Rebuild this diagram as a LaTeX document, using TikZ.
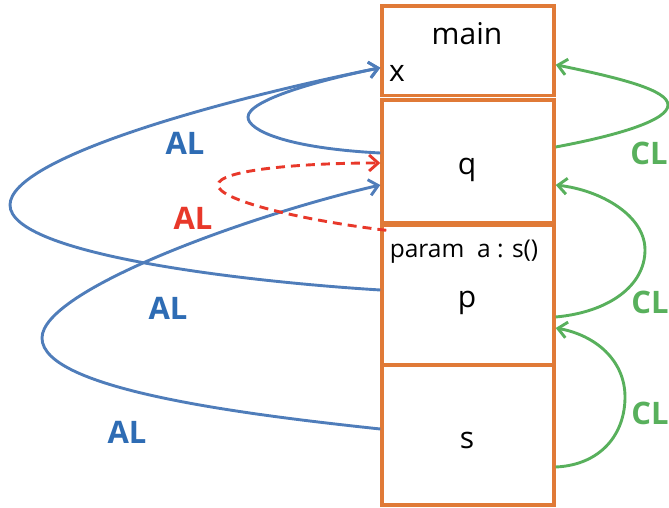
\documentclass[tikz,border=0pt]{standalone}
\usepackage{fontspec}
\setmainfont{Open Sans}
\usetikzlibrary{arrows.meta}
\definecolor{frameorange}{RGB}{224,122,55}
\definecolor{linkblue}{RGB}{79,125,186}
\definecolor{textblue}{RGB}{46,108,180}
\definecolor{linkred}{RGB}{232,56,42}
\definecolor{linkgreen}{RGB}{88,176,92}
\begin{document}
\begin{tikzpicture}[x=1pt,y=-1pt,
  frame/.style={draw=frameorange, line width=3.4pt, minimum width=172pt, inner sep=0pt},
  recname/.style={anchor=base, inner sep=0pt, font=\fontsize{30}{32}\selectfont},
  tip/.style={-{Straight Barb[length=9pt,width=16pt]}},
  al/.style={tip, draw=linkblue, line width=2.9pt},
  alred/.style={tip, draw=linkred, line width=2.9pt, dash pattern=on 9pt off 6pt},
  cl/.style={tip, draw=linkgreen, line width=2.9pt},
  lab/.style={inner sep=0pt, font=\fontsize{31}{33}\selectfont\bfseries}]
\useasboundingbox (0,0) rectangle (669,508);

% activation records
\node[frame, minimum height=89.5pt] (main) at (468,50.75) {};
\node[frame, minimum height=123pt] (q) at (468,161.5) {};
\node[frame, minimum height=140pt] (p) at (468,295) {};
\node[frame, minimum height=140pt] (s) at (468,435) {};

\node[recname] (tmain) at (467,45) {main};
\node[recname] (tx) at (397,82) {x};
\node[recname] (tq) at (467,175) {q};
\node[recname, font=\fontsize{24.5}{26}\selectfont] (tparam) at (464,257) {param\ \ a : s()};
\node[recname] (tp) at (467,307) {p};
\node[recname] (ts) at (467,448) {s};

% access links
\draw[al] ([yshift=5pt]p.west) .. controls (250,282) and (10,255) .. (10,205)
  .. controls (10,158) and (220,100) .. ([yshift=-17pt]main.west);
\draw[al] ([yshift=8.5pt]q.west) .. controls (285,148) and (248,130) .. (248,117)
  .. controls (248,100) and (320,80) .. ([yshift=-17pt]main.west);
\draw[al] ([yshift=6pt]s.west) .. controls (250,415) and (42,390) .. (42,338)
  .. controls (42,290) and (250,215) .. ([yshift=-23.5pt]q.west);
\draw[alred] ([xshift=6pt,yshift=-7pt]p.north west) .. controls (300,220) and (218,200) .. (218,185)
  .. controls (218,170) and (300,163) .. ([yshift=-1.5pt]q.west);

% control links
\draw[cl] ([yshift=14.5pt]q.east) .. controls (620,135) and (668,120) .. (668,105)
  .. controls (668,90) and (620,78) .. ([yshift=-14pt]main.east);
\draw[cl] ([yshift=-22pt]p.east) .. controls (610,312) and (645,285) .. (645,250)
  .. controls (645,215) and (600,190) .. ([yshift=-23.5pt]q.east);
\draw[cl] ([yshift=-32pt]s.east) .. controls (600,465) and (625,435) .. (625,397)
  .. controls (625,360) and (595,335) .. ([yshift=-33pt]p.east);

% link labels
\node[lab, text=textblue] (al1) at (185,143.5) {AL};
\node[lab, text=linkred] (al2) at (193,218) {AL};
\node[lab, text=textblue] (al3) at (168,308) {AL};
\node[lab, text=textblue] (al4) at (127,432) {AL};
\node[lab, text=linkgreen] (cl1) at (649,153) {CL};
\node[lab, text=linkgreen] (cl2) at (650,302) {CL};
\node[lab, text=linkgreen] (cl3) at (650,413) {CL};
\end{tikzpicture}
\end{document}
